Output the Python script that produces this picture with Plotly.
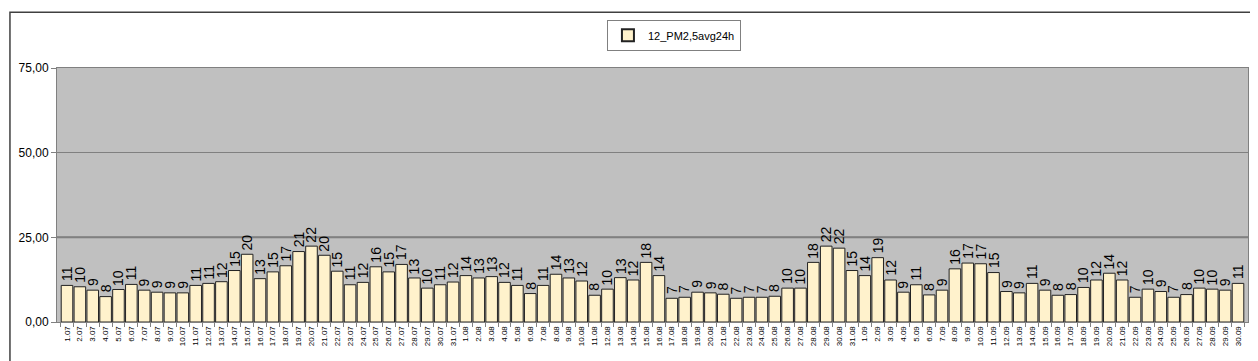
import plotly.graph_objects as go

july = [f"{d}.07" for d in range(1, 32)]
aug = [f"{d}.08" for d in range(1, 32)]
sep = [f"{d}.09" for d in range(1, 31)]
dates = july + aug + sep

pm25_july = [10.8, 10.4, 9.4, 7.5, 9.6, 11.1, 9.4, 8.8, 8.6, 8.6, 10.8, 11.4, 11.9, 15.2, 20.0,
             12.8, 14.8, 16.6, 20.8, 22.4, 19.7, 15.0, 11.0, 11.7, 16.3, 14.8, 17.0, 13.0, 10.0,
             11.0, 11.8]
pm25_aug = [13.7, 13.0, 13.4, 11.7, 10.8, 8.4, 10.8, 14.1, 13.0, 12.1, 7.9, 9.7, 13.1, 12.4,
            17.6, 13.7, 7.0, 7.3, 8.8, 8.6, 8.2, 7.0, 7.3, 7.3, 7.6, 10.0, 10.0, 17.6, 22.4,
            21.8, 15.2]
pm25_sep = [13.7, 19.0, 12.4, 8.8, 11.0, 8.0, 9.4, 15.7, 17.4, 17.2, 14.6, 9.0, 8.6, 11.4, 9.4,
            7.9, 8.1, 10.2, 12.4, 14.4, 12.4, 7.3, 9.7, 9.0, 7.3, 8.1, 10.0, 9.7, 9.4, 11.4]
values = pm25_july + pm25_aug + pm25_sep

series_name = "12_PM2,5avg24h"
y_ticks = [0, 25, 50, 75]
limit_value = 25

fig = go.Figure()
fig.add_trace(go.Bar(
    x=dates, y=values, name=series_name,
    marker=dict(color="#FFF2CC", line=dict(color="#222222", width=1)),
    showlegend=True,
))

for i, v in enumerate(values):
    fig.add_annotation(x=i, y=v, text=f"{v:.0f}", textangle=-90, showarrow=False,
                       yanchor="bottom", xanchor="center", yshift=2,
                       font=dict(family="Liberation Sans, Arial", size=14, color="black"))

fig.add_shape(type="line", xref="paper", yref="y", x0=0, x1=1, y0=limit_value, y1=limit_value,
              line=dict(color="#7a7a7a", width=2), layer="below")
# outer chart frame
fig.add_shape(type="rect", xref="paper", yref="paper",
              x0=-0.0395, x1=1.0126, y0=-0.172, y1=1.219,
              line=dict(color="#404040", width=1.5), fillcolor="rgba(0,0,0,0)")

fig.update_layout(
    width=1258, height=361,
    margin=dict(l=49, r=18, t=58, b=47),
    paper_bgcolor="white", plot_bgcolor="#C0C0C0",
    separators=",.",
    bargap=0.1,
    font=dict(family="Liberation Sans, Arial", color="black"),
    showlegend=True,
    legend=dict(x=0.518, y=1.19, xanchor="center", yanchor="top",
                bordercolor="#808080", borderwidth=1, bgcolor="white",
                font=dict(size=11), itemsizing="constant"),
    xaxis=dict(type="category", tickangle=-90, tickfont=dict(size=8),
               ticks="outside", ticklen=4, tickson="boundaries", tickcolor="#808080",
               showline=True, linecolor="#808080", mirror=True, showgrid=False),
    yaxis=dict(range=[0, 75], tickvals=y_ticks, tickformat=".2f",
               tickfont=dict(size=12), ticks="outside", ticklen=5, tickcolor="#808080",
               showline=True, linecolor="#808080", mirror=True,
               showgrid=True, gridcolor="#808080", gridwidth=1, zeroline=False),
)

fig.write_html("out.html")
